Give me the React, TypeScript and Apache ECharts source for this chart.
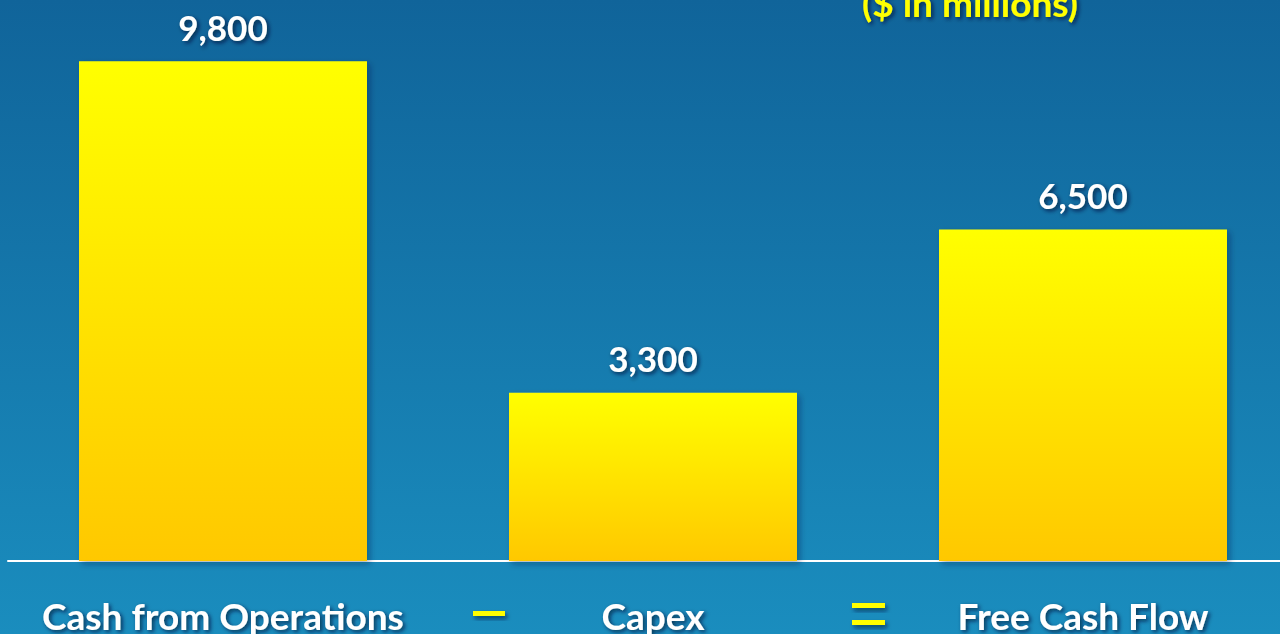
import React, { useEffect, useRef } from "react";
import * as echarts from "echarts";

const categories = ["Cash from Operations", "Capex", "Free Cash Flow"];
const values = [9800, 3300, 6500];
const unitTitle = "($ in millions)";

const FONT = "Lato, 'Open Sans', sans-serif";

export default function App() {
  const ref = useRef<HTMLDivElement>(null);
  useEffect(() => {
    document.body.style.margin = "0";
    const chart = echarts.init(ref.current!, null, { renderer: "svg" });
    const shadow = {
      textShadowColor: "rgba(0,20,50,0.75)",
      textShadowBlur: 4,
      textShadowOffsetX: 2,
      textShadowOffsetY: 2,
    };
    const opShadow = { shadowColor: "rgba(0,20,50,0.6)", shadowBlur: 4, shadowOffsetX: 2, shadowOffsetY: 3 };
    chart.setOption({
      animation: false,
      backgroundColor: new echarts.graphic.LinearGradient(0, 0, 0, 1, [
        { offset: 0, color: "#10649a" },
        { offset: 1, color: "#1a8dbe" },
      ]),
      grid: {
        left: 8,
        width: 1290,
        top: 0,
        bottom: 73,
        containLabel: false,
        outerBoundsMode: "none",
      },
      xAxis: {
        type: "category",
        data: categories,
        axisLine: { lineStyle: { color: "#ffffff", width: 2 } },
        axisTick: { show: false },
        axisLabel: {
          interval: 0,
          hideOverlap: false,
          color: "#ffffff",
          fontFamily: FONT,
          fontWeight: "bold",
          fontSize: 37,
          lineHeight: 38,
          margin: 35,
          ...shadow,
        },
      },
      yAxis: {
        type: "value",
        min: 0,
        max: 11000,
        show: false,
        splitLine: { show: false },
      },
      series: [
        {
          type: "bar",
          data: values,
          barWidth: 288,
          itemStyle: {
            color: new echarts.graphic.LinearGradient(0, 0, 0, 1, [
              { offset: 0, color: "#ffff00" },
              { offset: 1, color: "#ffc800" },
            ]),
            shadowColor: "rgba(0,30,60,0.35)",
            shadowBlur: 6,
            shadowOffsetX: 3,
            shadowOffsetY: 3,
          },
          label: {
            show: true,
            position: "top",
            distance: 17,
            color: "#ffffff",
            fontFamily: FONT,
            fontWeight: "bold",
            fontSize: 35,
            formatter: (p: any) => p.value.toLocaleString("en-US"),
            ...shadow,
          },
        },
      ],
      graphic: [
        {
          type: "text",
          x: 970,
          y: 2,
          style: {
            text: unitTitle,
            fill: "#ffff00",
            font: `bold 37px ${FONT}`,
            align: "center",
            verticalAlign: "middle",
            ...shadow,
          },
        },
        {
          type: "rect",
          shape: { x: 473, y: 611, width: 32, height: 5 },
          style: { fill: "#ffff00", ...opShadow },
        },
        {
          type: "rect",
          shape: { x: 852, y: 603, width: 33, height: 5 },
          style: { fill: "#ffff00", ...opShadow },
        },
        {
          type: "rect",
          shape: { x: 852, y: 620, width: 33, height: 5 },
          style: { fill: "#ffff00", ...opShadow },
        },
      ],
    });
    return () => chart.dispose();
  }, []);
  return <div ref={ref} style={{ width: 1280, height: 634 }} />;
}
